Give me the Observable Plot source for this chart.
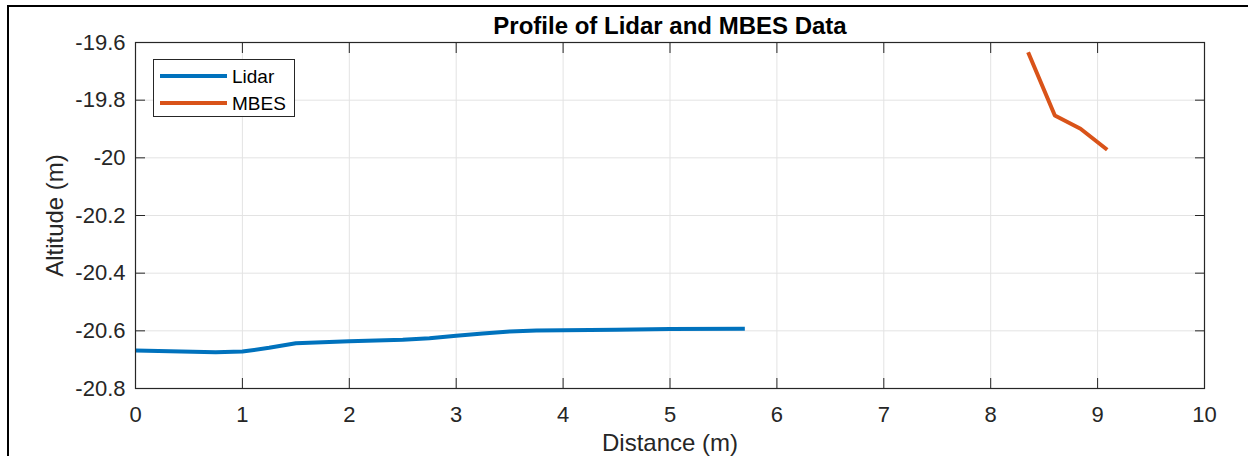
<!DOCTYPE html>
<html>
<head>
<meta charset="utf-8">
<script src="https://cdn.jsdelivr.net/npm/d3@7"></script>
<script src="https://cdn.jsdelivr.net/npm/@observablehq/plot@0.6"></script>
<style>
  html, body { margin: 0; padding: 0; background: #fff; }
  #wrap { position: relative; width: 1248px; height: 456px; overflow: hidden; font-family: "Liberation Sans", Arial, Helvetica, sans-serif; }
  #wrap svg { display: block; }
  #border { position: absolute; left: 7px; top: 5px; right: -10px; bottom: -10px; border-top: 2px solid #000; border-left: 2px solid #000; pointer-events: none; }
  #legend { position: absolute; left: 153px; top: 59px; width: 142px; height: 58px; border: 1px solid #262626; background: #fff; box-sizing: border-box; }
  .item { position: absolute; left: 0; height: 22px; }
  .swatch { position: absolute; left: 6px; width: 67px; height: 4px; }
  .lab { position: absolute; left: 78px; font-size: 19px; color: #000; line-height: 22px; white-space: nowrap; }
</style>
</head>
<body>
<div id="wrap"></div>
<script>
// ---- data ----
const title = "Profile of Lidar and MBES Data";
const xLabel = "Distance (m)";
const yLabel = "Altitude (m)";
const seriesNames = ["Lidar", "MBES"];
const seriesColors = ["#0072BD", "#D95319"];

const lidarX = [0, 0.75, 1.0, 1.25, 1.5, 2.0, 2.5, 2.75, 3.0, 3.25, 3.5, 3.75, 4.0, 4.5, 5.0, 5.7];
const lidarY = [-20.668, -20.674, -20.672, -20.659, -20.643, -20.636, -20.631, -20.626, -20.617, -20.609, -20.602, -20.599, -20.598, -20.596, -20.594, -20.593];

const mbesX = [8.35, 8.60, 8.84, 9.09];
const mbesY = [-19.634, -19.853, -19.899, -19.972];

const xTicks = [0, 1, 2, 3, 4, 5, 6, 7, 8, 9, 10];
const xTickLabels = ["0", "1", "2", "3", "4", "5", "6", "7", "8", "9", "10"];
const yTicks = [-20.8, -20.6, -20.4, -20.2, -20, -19.8, -19.6];
const yTickLabels = ["-20.8", "-20.6", "-20.4", "-20.2", "-20", "-19.8", "-19.6"];

// ---- build tables ----
const lidar = lidarX.map((x, i) => ({x, y: lidarY[i]}));
const mbes = mbesX.map((x, i) => ({x, y: mbesY[i]}));

const gridColor = "#e3e3e3";
const axisColor = "#262626";

const chart = Plot.plot({
  width: 1248,
  height: 456,
  marginLeft: 135,
  marginRight: 44,
  marginTop: 42,
  marginBottom: 68,
  style: { fontFamily: "'Liberation Sans', Arial, Helvetica, sans-serif", fontSize: "22px", color: axisColor, background: "transparent", overflow: "visible" },
  x: { domain: [0, 10] },
  y: { domain: [-20.8, -19.6] },
  marks: [
    Plot.gridX(xTicks, { stroke: gridColor, strokeOpacity: 1, strokeWidth: 1 }),
    Plot.gridY(yTicks, { stroke: gridColor, strokeOpacity: 1, strokeWidth: 1 }),
    Plot.line(lidar, { x: "x", y: "y", stroke: seriesColors[0], strokeWidth: 4, strokeLinejoin: "round", strokeLinecap: "butt" }),
    Plot.line(mbes, { x: "x", y: "y", stroke: seriesColors[1], strokeWidth: 4, strokeLinejoin: "round", strokeLinecap: "butt" }),
    Plot.frame({ stroke: axisColor, strokeWidth: 1.2 }),
    Plot.axisX(xTicks, { anchor: "bottom", tickSize: -10, tickPadding: 28, stroke: axisColor, fill: axisColor, fontSize: 22, label: null, tickFormat: (d) => xTickLabels[xTicks.indexOf(d)] }),
    Plot.axisX(xTicks, { anchor: "top", tickSize: -10, stroke: axisColor, label: null, tickFormat: () => "" }),
    Plot.axisY(yTicks, { anchor: "left", tickSize: -10, tickPadding: 20, stroke: axisColor, fill: axisColor, fontSize: 22, label: null, tickFormat: (d) => yTickLabels[yTicks.indexOf(d)] }),
    Plot.axisY(yTicks, { anchor: "right", tickSize: -10, stroke: axisColor, label: null, tickFormat: () => "" }),
    Plot.text([title], { frameAnchor: "top", lineAnchor: "bottom", dy: -9, fontSize: 24, fontWeight: "bold", fill: "#000" }),
    Plot.text([xLabel], { frameAnchor: "bottom", lineAnchor: "bottom", dy: 62, fontSize: 24, fill: axisColor }),
    Plot.text([yLabel], { frameAnchor: "left", textAnchor: "middle", lineAnchor: "middle", rotate: -90, dx: -80, fontSize: 24, fill: axisColor })
  ]
});

const wrap = document.getElementById("wrap");
wrap.appendChild(chart);

const border = document.createElement("div");
border.id = "border";
wrap.appendChild(border);

const legend = document.createElement("div");
legend.id = "legend";
seriesNames.forEach((name, i) => {
  const item = document.createElement("div");
  item.className = "item";
  item.style.top = (5 + i * 27) + "px";
  item.style.width = "100%";
  const sw = document.createElement("div");
  sw.className = "swatch";
  sw.style.background = seriesColors[i];
  sw.style.top = "9px";
  const lab = document.createElement("div");
  lab.className = "lab";
  lab.style.top = "1px";
  lab.textContent = name;
  item.appendChild(sw);
  item.appendChild(lab);
  legend.appendChild(item);
});
wrap.appendChild(legend);
</script>
</body>
</html>
